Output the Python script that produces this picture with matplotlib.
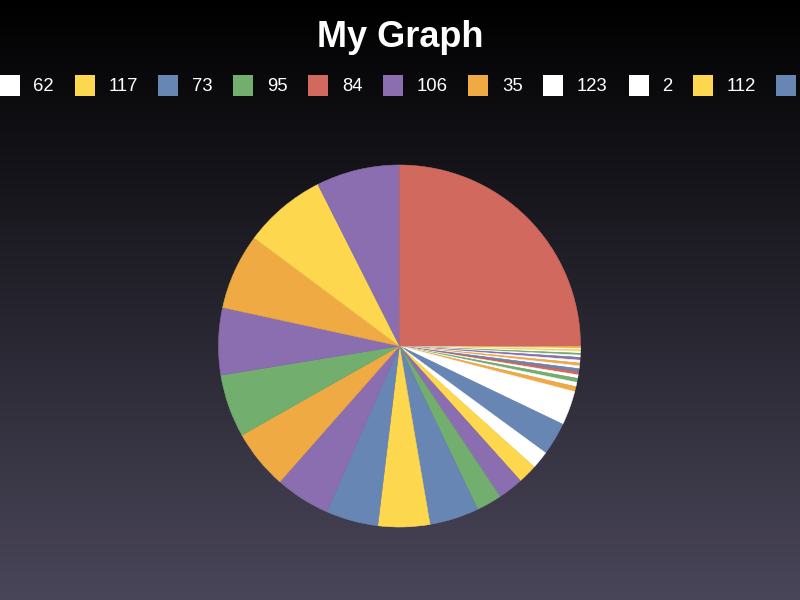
import matplotlib
matplotlib.use("Agg")
import matplotlib.pyplot as plt
import numpy as np
from matplotlib.colors import LinearSegmentedColormap
from matplotlib.patches import Rectangle

palette = {"yellow": "#FDD84E", "blue": "#6886B4", "green": "#72AE6E", "red": "#D1695E",
           "purple": "#8A6EAF", "orange": "#EFAA43", "white": "#FFFFFF"}

slice_sizes = [0.3, 0.4, 0.5, 0.5, 0.6, 0.6, 0.7, 0.9, 0.9, 0.9, 0.9, 1.0, 1.0, 1.1, 1.3, 1.4, 1.6,
               11.0, 10.6, 5.7, 6.2, 8.2, 8.1, 15.9, 16.6, 16.8, 17.7, 19.1, 20.2, 21.6, 24.4,
               26.5, 26.8, 90.0]
slice_colors = ["yellow", "orange", "white", "yellow", "white", "green", "white", "purple", "white",
                "orange", "white", "blue", "red", "white", "green", "white", "orange",
                "white", "blue", "white", "yellow", "purple", "green", "blue", "yellow", "blue",
                "purple", "orange", "green", "purple", "orange", "yellow", "purple", "red"]

# the part of the legend that is visible (it runs off both edges)
legend_labels = ["62", "117", "73", "95", "84", "106", "35", "123", "2", "112", ""]
legend_colors = ["white", "yellow", "blue", "green", "red", "purple", "orange",
                 "white", "white", "yellow", "blue"]

font = "Liberation Sans"

fig = plt.figure(figsize=(8, 6), dpi=100)

# background gradient, pixel coordinates
bg = fig.add_axes([0, 0, 1, 1])
grad = np.linspace(0, 1, 256).reshape(-1, 1)
cmap = LinearSegmentedColormap.from_list("bg", ["#000000", "#4a465a"])
bg.imshow(grad, aspect="auto", cmap=cmap, extent=[0, 800, 600, 0])
bg.set_xlim(0, 800)
bg.set_ylim(600, 0)
bg.axis("off")

bg.text(400, 47, "My Graph", ha="center", va="baseline", fontsize=26,
        fontweight="bold", color="white", family=font)

fig.canvas.draw()
renderer = fig.canvas.get_renderer()
x = 0.0
for label, cname in zip(legend_labels, legend_colors):
    bg.add_patch(Rectangle((x, 75), 20, 21, facecolor=palette[cname], linewidth=0))
    t = bg.text(x + 33.5, 91, label, ha="left", va="baseline", fontsize=13.3,
                color="white", family=font)
    w = t.get_window_extent(renderer).width if label else 0
    x += 33.5 + w + 20.8

# pie
ax = fig.add_axes([218.5 / 800, (600 - 346 - 181) / 600, 362 / 800, 362 / 600])
wedges, _ = ax.pie(slice_sizes, colors=[palette[c] for c in slice_colors], startangle=0,
                   counterclock=False)
for wd in wedges:
    wd.set_edgecolor(wd.get_facecolor())
    wd.set_linewidth(0.4)
ax.set_xlim(-1, 1)
ax.set_ylim(-1, 1)
ax.axis("off")

fig.savefig("out.png", dpi=100)
